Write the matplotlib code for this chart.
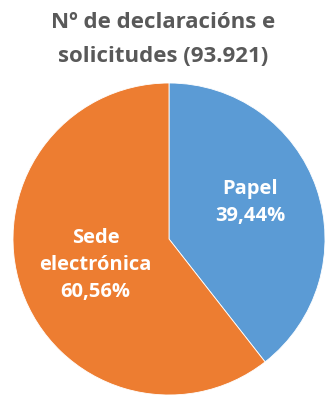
import matplotlib
matplotlib.use("Agg")
import matplotlib.pyplot as plt

title = "Nº de declaracións e\nsolicitudes (93.921)"
categories = ["Papel", "Sede\nelectrónica"]
values = [39.44, 60.56]
value_labels = ["39,44%", "60,56%"]
colors = ["#5B9BD5", "#ED7D31"]

fig = plt.figure(figsize=(3.26, 4.01), dpi=100)
ax = fig.add_axes([13/326, 6/401, 312/326, 312/401])
wedges, _ = ax.pie(values, colors=colors, startangle=90, counterclock=False,
                   wedgeprops=dict(linewidth=0.6, edgecolor="white"))
ax.set_aspect("equal")
ax.set_xlim(-1, 1)
ax.set_ylim(-1, 1)

label_pos = [(0.52, 0.234), (-0.47, -0.167)]
for cat, vl, (x, y) in zip(categories, value_labels, label_pos):
    ax.text(x, y, f"{cat}\n{vl}", ha="center", va="center", color="white",
            fontsize=14.5, fontweight="bold", family="Open Sans", linespacing=1.45)

fig.text(0.5, 0.901, title, ha="center", va="center", fontsize=16,
         fontweight="bold", color="#595959", family="Open Sans", linespacing=1.8)
fig.savefig("out.png", dpi=100)
